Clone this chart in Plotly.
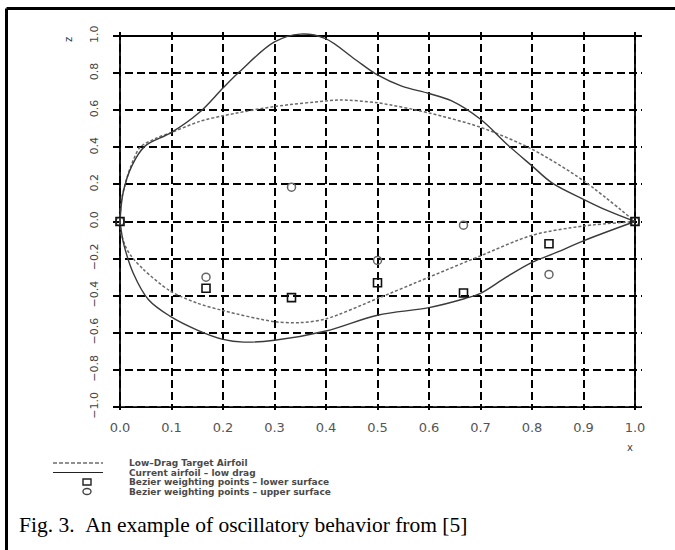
import plotly.graph_objects as go

# ---- data ----
tgt_up_x = [0, 0.003, 0.01, 0.02, 0.039, 0.071, 0.1, 0.155, 0.2, 0.3, 0.4, 0.43, 0.5, 0.6, 0.7, 0.8, 0.9, 1.0]
tgt_up_z = [0, 0.12, 0.2, 0.29, 0.40, 0.45, 0.48, 0.54, 0.57, 0.62, 0.65, 0.655, 0.64, 0.585, 0.508, 0.39, 0.22, 0]

tgt_lo_x = [0, 0.002, 0.01, 0.02, 0.045, 0.097, 0.15, 0.2, 0.3, 0.35, 0.4, 0.5, 0.6, 0.7, 0.8, 0.9, 1.0]
tgt_lo_z = [0, -0.06, -0.13, -0.18, -0.257, -0.374, -0.44, -0.48, -0.54, -0.545, -0.525, -0.415, -0.30, -0.185, -0.074, -0.024, 0]

cur_up_x = [0, 0.006, 0.023, 0.048, 0.1, 0.155, 0.2, 0.233, 0.3, 0.35, 0.398, 0.456, 0.5, 0.547, 0.6, 0.644, 0.7, 0.754, 0.8, 0.838, 0.9, 0.948, 1.0]
cur_up_z = [0, 0.155, 0.30, 0.405, 0.48, 0.59, 0.72, 0.81, 0.968, 1.01, 0.987, 0.875, 0.79, 0.73, 0.69, 0.65, 0.551, 0.41, 0.30, 0.21, 0.12, 0.057, 0]

cur_lo_x = [0, 0.003, 0.008, 0.026, 0.055, 0.097, 0.15, 0.2, 0.24, 0.3, 0.4, 0.5, 0.6, 0.67, 0.7, 0.75, 0.8, 0.85, 0.9, 1.0]
cur_lo_z = [0, -0.06, -0.13, -0.28, -0.42, -0.51, -0.585, -0.635, -0.65, -0.64, -0.59, -0.505, -0.464, -0.415, -0.387, -0.30, -0.22, -0.164, -0.104, 0]

lower_pts_x = [0, 0.167, 0.333, 0.5, 0.667, 0.833, 1.0]
lower_pts_z = [0, -0.36, -0.41, -0.33, -0.385, -0.12, 0]

upper_pts_x = [0, 0.167, 0.333, 0.5, 0.667, 0.833, 1.0]
upper_pts_z = [0, -0.30, 0.185, -0.21, -0.02, -0.285, 0]

x_ticks = [0.0, 0.1, 0.2, 0.3, 0.4, 0.5, 0.6, 0.7, 0.8, 0.9, 1.0]
x_tick_labels = ["0.0", "0.1", "0.2", "0.3", "0.4", "0.5", "0.6", "0.7", "0.8", "0.9", "1.0"]
z_ticks = [-1.0, -0.8, -0.6, -0.4, -0.2, 0.0, 0.2, 0.4, 0.6, 0.8, 1.0]
z_tick_labels = ["\u22121.0", "\u22120.8", "\u22120.6", "\u22120.4", "\u22120.2", "0.0", "0.2", "0.4", "0.6", "0.8", "1.0"]

legend_labels = [
    "Low\u2013Drag Target Airfoil",
    "Current airfoil \u2013 low drag",
    "Bezier weighting points \u2013 lower surface",
    "Bezier weighting points \u2013 upper surface",
]
caption = "Fig. 3.\u00a0\u00a0An example of oscillatory behavior from [5]"

# ---- layout geometry (pixels) ----
W, H = 675, 550
ML, MR, MT, MB = 113, 33, 32, 140
PW, PH = W - ML - MR, H - MT - MB


def px(xp):
    return (xp - ML) / PW


def py(yp):
    return (H - MB - yp) / PH


TGT_COLOR = "#6a6a6a"
CUR_COLOR = "#3a3a3a"
TGT_DASH = "3px,2px"

fig = go.Figure()
fig.add_trace(go.Scatter(x=tgt_up_x, y=tgt_up_z, mode="lines", line=dict(color=TGT_COLOR, width=1.5, dash=TGT_DASH, shape="spline", smoothing=0.8), showlegend=False))
fig.add_trace(go.Scatter(x=tgt_lo_x, y=tgt_lo_z, mode="lines", line=dict(color=TGT_COLOR, width=1.5, dash=TGT_DASH, shape="spline", smoothing=0.8), showlegend=False))
fig.add_trace(go.Scatter(x=cur_up_x, y=cur_up_z, mode="lines", line=dict(color=CUR_COLOR, width=1.4, shape="spline", smoothing=1.0), showlegend=False))
fig.add_trace(go.Scatter(x=cur_lo_x, y=cur_lo_z, mode="lines", line=dict(color=CUR_COLOR, width=1.4, shape="spline", smoothing=1.0), showlegend=False))
fig.add_trace(go.Scatter(x=upper_pts_x, y=upper_pts_z, mode="markers", marker=dict(symbol="circle-open", size=8, color="#666666", line=dict(width=1.5)), showlegend=False))
fig.add_trace(go.Scatter(x=lower_pts_x, y=lower_pts_z, mode="markers", marker=dict(symbol="square-open", size=8, color="#111111", line=dict(width=1.6)), showlegend=False))

shapes = []
# solid frame lines of the grid
for xv in (0.0, 1.0):
    shapes.append(dict(type="line", xref="x", yref="paper", x0=xv, x1=xv, y0=0, y1=1, line=dict(color="black", width=1.8), layer="below"))
for zv in (-1.0, 1.0):
    shapes.append(dict(type="line", xref="paper", yref="y", x0=0, x1=1, y0=zv, y1=zv, line=dict(color="black", width=1.8), layer="below"))

# outer figure border (left and top)
shapes.append(dict(type="line", xref="paper", yref="paper", x0=px(6.5), x1=px(6.5), y0=py(8.5), y1=py(560), line=dict(color="black", width=3)))
shapes.append(dict(type="line", xref="paper", yref="paper", x0=px(6.5), x1=px(690), y0=py(8.5), y1=py(8.5), line=dict(color="black", width=3)))

# legend glyphs
leg_rows = [463, 472.5, 482, 491.5]
shapes.append(dict(type="line", xref="paper", yref="paper", x0=px(53), x1=px(103), y0=py(leg_rows[0]), y1=py(leg_rows[0]), line=dict(color="#222222", width=1, dash="4px,2px")))
shapes.append(dict(type="line", xref="paper", yref="paper", x0=px(53), x1=px(103), y0=py(leg_rows[1]), y1=py(leg_rows[1]), line=dict(color="#222222", width=1.2)))
shapes.append(dict(type="rect", xref="paper", yref="paper", xsizemode="pixel", ysizemode="pixel", xanchor=px(87), yanchor=py(leg_rows[2]), x0=-4, x1=4, y0=-3, y1=3, line=dict(color="#222222", width=1.4)))
shapes.append(dict(type="circle", xref="paper", yref="paper", xsizemode="pixel", ysizemode="pixel", xanchor=px(87), yanchor=py(leg_rows[3]), x0=-4, x1=4, y0=-3, y1=3, line=dict(color="#444444", width=1.4)))

annotations = []
for lbl, r in zip(legend_labels, leg_rows):
    annotations.append(dict(text=lbl, xref="paper", yref="paper", x=px(127), y=py(r), xanchor="left", yanchor="middle", showarrow=False,
                            font=dict(family="DejaVu Sans", size=9, weight=700, color="#4a4a4a")))

annotations.append(dict(text=caption, xref="paper", yref="paper", x=px(17), y=py(525), xanchor="left", yanchor="middle", showarrow=False, font=dict(family="Liberation Serif", size=21.5, color="black")))
annotations.append(dict(text="z", xref="paper", yref="paper", x=px(68), y=py(40), xanchor="center", yanchor="middle", textangle=-90, showarrow=False, font=dict(family="DejaVu Sans", size=10, color="#333333")))
annotations.append(dict(text="x", xref="paper", yref="paper", x=px(630), y=py(447), xanchor="center", yanchor="middle", showarrow=False, font=dict(family="DejaVu Sans", size=10, color="#444444")))

GRID_DASH = "8px,4px"
fig.update_layout(
    width=W, height=H,
    margin=dict(l=ML, r=MR, t=MT, b=MB, pad=0),
    paper_bgcolor="white", plot_bgcolor="white",
    showlegend=False,
    shapes=shapes,
    annotations=annotations,
    xaxis=dict(range=[-0.0136, 1.0136], tickvals=x_ticks, ticktext=x_tick_labels, showgrid=True, gridcolor="black", gridwidth=1.5, griddash=GRID_DASH,
               zeroline=False, showline=False, ticks="", ticklabelstandoff=8, tickfont=dict(family="DejaVu Sans", size=13, color="#555555")),
    yaxis=dict(range=[-1.016, 1.0216], tickvals=z_ticks, ticktext=z_tick_labels, showgrid=True, gridcolor="black", gridwidth=1.5, griddash=GRID_DASH,
               zeroline=False, showline=False, ticks="", tickangle=-90, ticklabelstandoff=12, tickfont=dict(family="DejaVu Sans", size=11, color="#444444")),
)

fig.write_html("out.html", config={"displayModeBar": False}, post_script="document.body.style.margin='0';")
